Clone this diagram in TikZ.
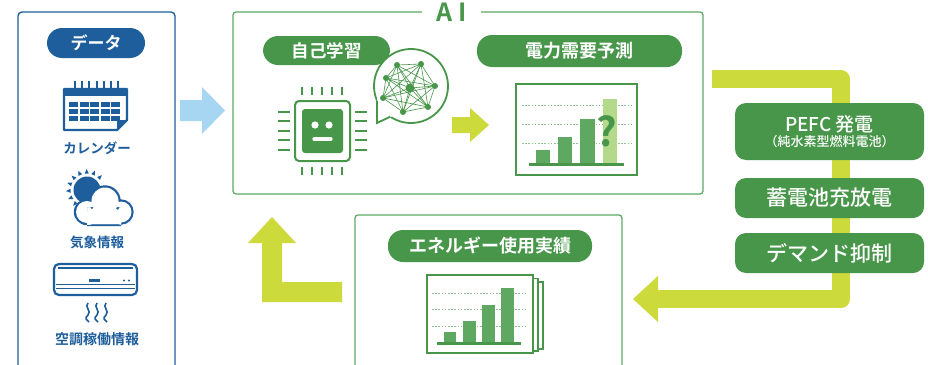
\documentclass[tikz,border=0pt]{standalone}
\usepackage{fontspec}
\setmainfont{Noto Sans CJK JP}[BoldFont={Noto Sans CJK JP Bold}]
\newfontfamily\medium{Noto Sans CJK JP Medium}
\usetikzlibrary{calc}

\definecolor{dgreen}{HTML}{479649}
\definecolor{frameg}{HTML}{5DAA66}
\definecolor{barg}{HTML}{5FA862}
\definecolor{barlight}{HTML}{B4D98B}
\definecolor{lime}{HTML}{CDDA3C}
\definecolor{lblue}{HTML}{A7D6F2}
\definecolor{dblue}{HTML}{1E5E9C}

\newcommand{\fs}[1]{\fontsize{#1}{#1}\selectfont}

\tikzset{
  pill/.style={fill=dgreen, text=white, rounded corners=15pt, inner sep=0pt, font=\bfseries},
  bluepill/.style={fill=dblue, text=white, rounded corners=15pt, inner sep=0pt, font=\bfseries},
  actionbox/.style={fill=dgreen, text=white, rounded corners=11pt, inner sep=0pt,
    minimum width=189pt, align=center},
  iconlabel/.style={text=dblue, font=\bfseries, inner sep=0pt},
  frame/.style={draw=frameg, line width=1.3pt, rounded corners=3pt},
  pin/.style={draw=dgreen, line width=2.6pt},
  guide/.style={draw=barg!70, line width=0.8pt, dash pattern=on 1.6pt off 1.6pt},
  netedge/.style={draw=dgreen, line width=0.6pt},
  netdot/.style={fill=dgreen},
}

\begin{document}
\begin{tikzpicture}[x=1pt,y=-1pt]
\useasboundingbox (0,0) rectangle (928,364);
\clip (0,0) rectangle (928,364);
\fill[white] (0,0) rectangle (928,364);

% ---------- input data column ----------
\draw[dblue, line width=1.4pt, rounded corners=4pt] (18,12) rectangle (175,380);
\node[bluepill, minimum width=98pt, minimum height=30pt, font=\bfseries\fs{17}] (data) at (96,43) {データ};

% calendar
\begin{scope}[dblue]
  \draw[line width=2.4pt, line join=round] (64,89) -- (127,89) -- (127,120) -- (117,130) -- (64,130) -- cycle;
  \fill (64,88) rectangle (127,96);
  \fill (117,130) -- (117,120) -- (127,120) -- cycle;
  \foreach \x in {75,82.2,89.4,96.6,103.8,111,118}
    \draw[line width=2pt] (\x,81) -- (\x,91);
  \foreach \c in {0,...,4}
    \foreach \r in {0,...,2}
      \fill ({69+\c*10.6},{102+\r*7}) rectangle ++(9,5);
\end{scope}
\node[iconlabel, font=\bfseries\fs{13.5}] (callabel) at (97,148) {カレンダー};

% weather: sun behind a cloud (y axis points down, so angles are negated)
\begin{scope}
  \fill[dblue] (87,190) circle (13.5);
  \foreach \a in {45,68,91,114,137,160,183,206,229}
    \fill[dblue] ($(87,190)+(-\a+7:16.5)$) -- ($(87,190)+(-\a:21)$) -- ($(87,190)+(-\a-7:16.5)$) -- cycle;
  % cloud outline: blue union, then white union inside
  \fill[dblue] (87,212) circle (13.2) (105,201) circle (15.7) (121,212) circle (12.7)
               (87,207) rectangle (121,226.2);
  \fill[white] (87,212) circle (11) (105,201) circle (13.5) (121,212) circle (10.5)
               (87,207) rectangle (121,224);
  \fill[white] (87,212) -- (105,201) -- (121,212) -- (121,224) -- (87,224) -- cycle;
\end{scope}
\node[iconlabel, font=\bfseries\fs{13.5}] (wxlabel) at (97,242) {気象情報};

% air conditioner
\begin{scope}[dblue]
  \draw[line width=2.2pt, rounded corners=5pt] (54,264) rectangle (137,295);
  \draw[line width=1.2pt] (58,268) -- (133,268);
  \draw[line width=2.6pt] (89,280.5) -- (100,280.5);
  \fill (124,280.5) circle (1.1) (129,280.5) circle (1.1);
  \draw[line width=1.2pt] (56,284.5) -- (135,284.5);
  \draw[line width=1.2pt] (56,288.5) -- (135,288.5);
  \foreach \x in {88,97,106}
    \draw[line width=1.6pt] (\x,303) .. controls (\x-4,307) and (\x+4,311) .. (\x,315)
                             .. controls (\x-4,318) and (\x-1,321) .. (\x+1,322);
\end{scope}
\node[iconlabel, font=\bfseries\fs{14}] (aclabel) at (97,339) {空調稼働情報};

% data feeds the AI
\fill[lblue] (180,100) -- (202,100) -- (202,87) -- (225,110.5) -- (202,134) -- (202,121) -- (180,121) -- cycle;

% ---------- AI block ----------
\draw[frame] (422,12) -- (233,12) -- (233,194) -- (703,194) -- (703,12) -- (481,12);
\node[text=dgreen, font=\bfseries\fs{25}, inner sep=0pt] (ailabel) at (452,12) {A\kern6pt I};

\node[pill, minimum width=127pt, minimum height=29pt, font=\bfseries\fs{17.5}] (learn) at (326.5,50.5) {自己学習};

% chip with a face
\draw[dgreen, line width=2pt, rounded corners=4pt] (295,101) rectangle (350,161);
\fill[dgreen, rounded corners=3pt] (302,109) rectangle (343,153);
\fill[white] (315,125) circle (3.6) (329,125) circle (3.6);
\draw[white, line width=3.2pt, line cap=round] (314,139) -- (331,139);
\foreach \x in {302,312,322,332,342} {
  \draw[pin] (\x,87) -- (\x,95);
  \draw[pin] (\x,167) -- (\x,175);
}
\foreach \y in {112,121,131,140,150} {
  \draw[pin] (278,\y) -- (290,\y);
  \draw[pin] (355,\y) -- (367,\y);
}

% thought bubble holding a network
\coordinate (bc) at (411,86);
\filldraw[fill=white, draw=dgreen, line width=1.8pt] (bc) circle (37);
\fill[white] (377.2,98.3) -- (377,123) -- (391.9,116.5) -- cycle;
\draw[dgreen, line width=1.8pt, line join=miter] (377,100.5) -- (377,123) -- (390.3,116.7);
\coordinate (n1) at (397,65);
\coordinate (n2) at (421,64);
\coordinate (n3) at (386,78);
\coordinate (n4) at (435,86);
\coordinate (n5) at (383,98);
\coordinate (n6) at (428,107);
\coordinate (n7) at (403,112);
\coordinate (n0) at (410,88);
\foreach \a/\b in {n1/n2,n2/n4,n4/n6,n6/n7,n7/n5,n5/n3,n3/n1,
                   n1/n4,n1/n6,n1/n7,n1/n5,n2/n3,n2/n5,n2/n7,n3/n4,n3/n6,
                   n4/n7,n4/n5,n5/n6,n3/n7,n2/n6,
                   n0/n1,n0/n2,n0/n3,n0/n4,n0/n5,n0/n6,n0/n7}
  \draw[netedge] (\a) -- (\b);
\foreach \n in {n1,n2,n3,n4,n5,n6,n7}
  \fill[netdot] (\n) circle (3);
\fill[netdot] (n0) circle (4.5);

% learning leads to the forecast
\fill[lime] (452,117) -- (470,117) -- (470,108) -- (489,125) -- (470,142) -- (470,133) -- (452,133) -- cycle;

\node[pill, minimum width=205pt, minimum height=32pt, font=\bfseries\fs{18}] (forecast) at (579.5,51) {電力需要予測};

% forecast chart
\draw[dgreen, line width=2.2pt] (516,84) rectangle (637,175);
\foreach \y in {105,124,143}
  \draw[guide] (522,\y) -- (632,\y);
\fill[barg] (536,150) rectangle (550,164);
\fill[barg] (558,137) rectangle (572,164);
\fill[barg] (580,119) rectangle (595,164);
\fill[barlight] (603,99) rectangle (617,164);
\draw[dgreen, line width=3pt] (529,164.5) -- (624,164.5);
\node[text=dgreen, font=\bfseries\fs{40}, inner sep=0pt] (qmark) at (607,131) {?};

% ---------- control actions ----------
\draw[lime, line width=18pt, line join=round] (712,79) -- (841,79) -- (841,299) -- (656,299);
\fill[lime] (658,276) -- (633,299) -- (658,322) -- cycle;

\node[actionbox, minimum height=57pt, font=\medium] (pefc) at (829.5,131.5)
  {{\fs{19}PEFC 発電}\\[1pt]{\fs{13}（純水素型燃料電池）}};
\node[actionbox, minimum height=40pt, font=\medium\fs{21}] (battery) at (829.5,198) {蓄電池充放電};
\node[actionbox, minimum height=40pt, font=\medium\fs{21}] (demand) at (829.5,253) {デマンド抑制};

% ---------- usage record ----------
\draw[frame] (355,215) rectangle (622,380);
\node[pill, minimum width=204pt, minimum height=32pt, font=\bfseries\fs{18}] (usage) at (490,246) {エネルギー使用実績};

% stacked sheets of the record chart
\filldraw[fill=white, draw=dgreen, line width=1.8pt] (436,282) rectangle (543,349);
\filldraw[fill=white, draw=dgreen, line width=1.8pt] (432,278.5) rectangle (538,351);
\filldraw[fill=white, draw=dgreen, line width=2.2pt] (427,275) rectangle (533,353);
\foreach \y in {293,309.5,326}
  \draw[guide] (432,\y) -- (528,\y);
\fill[barg] (444,332) rectangle (456,343);
\fill[barg] (463,321) rectangle (476,343);
\fill[barg] (482,305) rectangle (495,343);
\fill[barg] (501,288) rectangle (514,343);
\draw[dgreen, line width=3pt] (437,343.5) -- (521,343.5);

% record feeds back into the AI
\fill[lime] (342,282) -- (282,282) -- (282,243) -- (296,243) -- (272,217) -- (248,243)
            -- (262,243) -- (262,302) -- (342,302) -- cycle;
\end{tikzpicture}
\end{document}
